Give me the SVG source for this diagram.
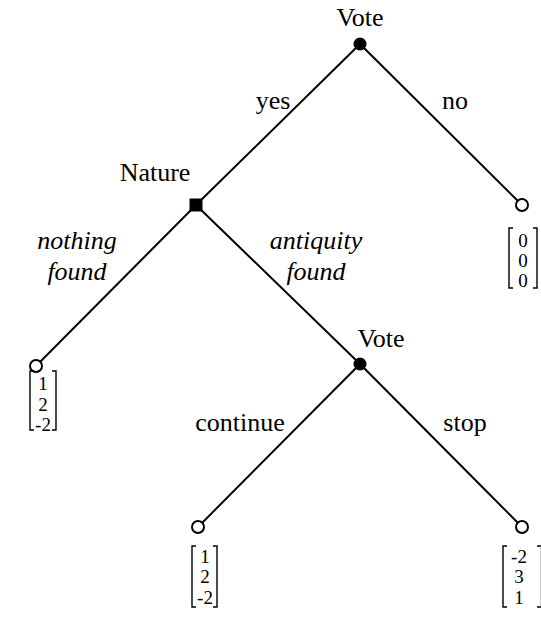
<svg xmlns="http://www.w3.org/2000/svg" width="541" height="630" viewBox="0 0 541 630">
<style>
text{font-family:"Liberation Serif","Times New Roman",serif;fill:#000}
.lbl{font-size:26px;text-anchor:middle}
.it{font-size:26px;font-style:italic;text-anchor:middle}
.v{font-size:19px;text-anchor:middle}
.edge{stroke:#000;stroke-width:2;fill:none}
.br{stroke:#000;stroke-width:1.4;fill:none}
.leaf{fill:#fff;stroke:#000;stroke-width:2}
</style>
<rect width="541" height="630" fill="#fff"/>
<g id="connectors">
<line class="edge" x1="360" y1="44" x2="196" y2="205"/>
<line class="edge" x1="360" y1="44" x2="522" y2="205"/>
<line class="edge" x1="196" y1="205" x2="36" y2="366"/>
<line class="edge" x1="196" y1="205" x2="360" y2="364"/>
<line class="edge" x1="360" y1="364" x2="198" y2="527"/>
<line class="edge" x1="360" y1="364" x2="522" y2="527"/>
</g>
<g id="edge-labels">
<text class="lbl" x="273" y="109">yes</text>
<text class="lbl" x="455" y="109">no</text>
<text class="it" x="77" y="249">nothing</text>
<text class="it" x="77" y="280">found</text>
<text class="it" x="316" y="249">antiquity</text>
<text class="it" x="316" y="280">found</text>
<text class="lbl" x="240" y="431">continue</text>
<text class="lbl" x="465" y="431">stop</text>
</g>
<g id="vote1">
<circle cx="360" cy="44" r="6.5" fill="#000"/>
<text class="lbl" x="360" y="26">Vote</text>
</g>
<g id="nature">
<rect x="189.5" y="198.5" width="13" height="13" fill="#000"/>
<text class="lbl" x="155" y="181">Nature</text>
</g>
<g id="vote2">
<circle cx="360" cy="364" r="6.5" fill="#000"/>
<text class="lbl" x="381" y="347">Vote</text>
</g>
<g id="leaf-no">
<circle class="leaf" cx="522" cy="205" r="6"/>
<path class="br" d="M513,228 H509 V288 H513 M533,228 H537 V288 H533"/>
<text class="v" x="523" y="247">0</text>
<text class="v" x="523" y="267">0</text>
<text class="v" x="523" y="287">0</text>
</g>
<g id="leaf-nothing">
<circle class="leaf" cx="36" cy="366" r="6"/>
<path class="br" d="M34,371 H30 V430 H34 M52,371 H56 V430 H52"/>
<text class="v" x="43" y="390">1</text>
<text class="v" x="43" y="411">2</text>
<text class="v" x="43" y="431">-2</text>
</g>
<g id="leaf-continue">
<circle class="leaf" cx="198" cy="527" r="6"/>
<path class="br" d="M196,546 H192 V607 H196 M213,546 H217 V607 H213"/>
<text class="v" x="205" y="563">1</text>
<text class="v" x="205" y="583">2</text>
<text class="v" x="205" y="604">-2</text>
</g>
<g id="leaf-stop">
<circle class="leaf" cx="522" cy="527" r="6"/>
<path class="br" d="M507,546 H503 V607 H507 M537,546 H541.5 V607 H537"/>
<text class="v" x="519" y="563">-2</text>
<text class="v" x="519" y="583">3</text>
<text class="v" x="519" y="604">1</text>
</g>
</svg>
